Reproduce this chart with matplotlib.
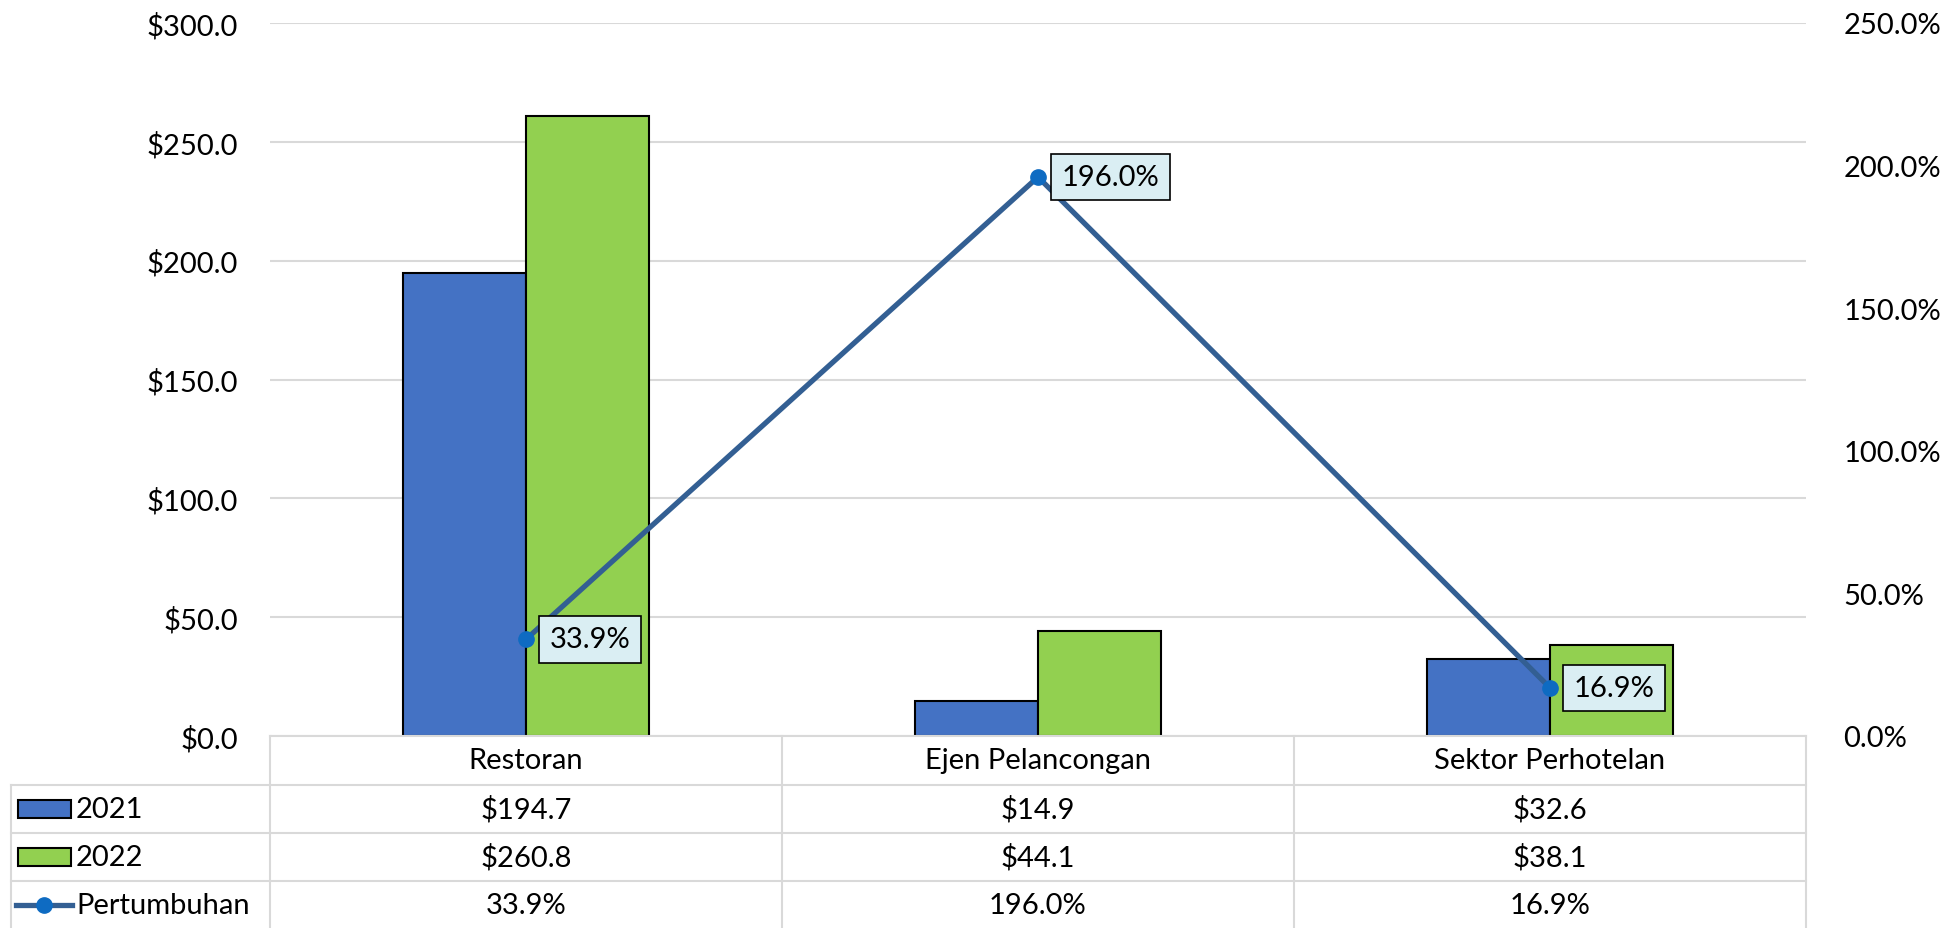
import matplotlib
matplotlib.use('Agg')
import matplotlib.pyplot as plt
import numpy as np
from matplotlib.lines import Line2D
from matplotlib.patches import Rectangle
from matplotlib.transforms import blended_transform_factory

# data
categories = ['Restoran', 'Ejen Pelancongan', 'Sektor Perhotelan']
sales_2021 = [194.7, 14.9, 32.6]
sales_2022 = [260.8, 44.1, 38.1]
growth = [33.9, 196.0, 16.9]
series_names = ['2021', '2022', 'Pertumbuhan']

blue = '#4472C4'
green = '#92D050'
line_col = '#335F93'
marker_col = '#0E6BC2'
grid_col = '#D9D9D9'

plt.rcParams['font.family'] = ['Lato', 'DejaVu Sans']
plt.rcParams['font.size'] = 21

W, H = 1949, 929


def fx(px):
    return px / W


def fy(py):
    return 1 - py / H


fig = plt.figure(figsize=(W / 100, H / 100), dpi=100)
ax = fig.add_axes([fx(270), fy(737), fx(1806) - fx(270), fy(24) - fy(737)])
ax2 = ax.twinx()

x = np.arange(len(categories))
bw = 0.24
ax.bar(x - bw / 2, sales_2021, bw, color=blue, edgecolor='black', linewidth=1.5, zorder=2)
ax.bar(x + bw / 2, sales_2022, bw, color=green, edgecolor='black', linewidth=1.5, zorder=2)

ax.set_xlim(-0.5, len(categories) - 0.5)
ax.set_ylim(0, 300)
ax.set_yticks(range(0, 301, 50))
ax.yaxis.set_major_formatter(lambda v, p: f'${v:.1f}')
ax.set_xticks([])
ax.grid(axis='y', color=grid_col, linewidth=1.5)
ax.set_axisbelow(True)
ax.tick_params(axis='y', length=0, pad=23)

ax2.plot(x, growth, color=line_col, linewidth=3.8, marker='o', markersize=11,
         markerfacecolor=marker_col, markeredgecolor=marker_col, zorder=3)
ax2.set_ylim(0, 250)
ax2.set_yticks(range(0, 251, 50))
ax2.yaxis.set_major_formatter(lambda v, p: f'{v:.1f}%')
ax2.tick_params(axis='y', length=0, pad=27)

for a in (ax, ax2):
    for s in a.spines.values():
        s.set_visible(False)

for i, g in enumerate(growth):
    ax2.annotate(f'{g:.1f}%', (x[i], g), xytext=(17, 0), textcoords='offset points',
                 ha='left', va='center', zorder=5,
                 bbox=dict(boxstyle='square,pad=0.35', fc='#DAEEF3', ec='black', lw=1.2))

# data table under the chart
trans = blended_transform_factory(ax.transData, fig.transFigure)
row_lines = [786, 834, 882]
lw_t = 1.5
ax.add_line(Line2D([-0.5, 2.5], [fy(737)] * 2, transform=trans, color=grid_col, lw=lw_t, clip_on=False))
for yy in row_lines:
    fig.add_artist(Line2D([fx(11), fx(1806)], [fy(yy)] * 2, color=grid_col, lw=lw_t))
for xb in [-0.5, 0.5, 1.5, 2.5]:
    ax.add_line(Line2D([xb, xb], [fy(737), fy(935)], transform=trans, color=grid_col, lw=lw_t, clip_on=False))
fig.add_artist(Line2D([fx(11), fx(11)], [fy(786), fy(935)], color=grid_col, lw=lw_t))

header_y = 761
row_y = [810, 858, 906]
for i, c in enumerate(categories):
    ax.text(x[i], fy(header_y), c, transform=trans, ha='center', va='center')
    ax.text(x[i], fy(row_y[0]), f'${sales_2021[i]:.1f}', transform=trans, ha='center', va='center')
    ax.text(x[i], fy(row_y[1]), f'${sales_2022[i]:.1f}', transform=trans, ha='center', va='center')
    ax.text(x[i], fy(row_y[2]), f'{growth[i]:.1f}%', transform=trans, ha='center', va='center')

# legend keys in the row labels
for k, col in enumerate([blue, green]):
    cy = row_y[k]
    fig.add_artist(Rectangle((fx(18), fy(cy + 9)), fx(71) - fx(18), fy(cy - 9) - fy(cy + 9),
                             transform=fig.transFigure, facecolor=col, edgecolor='black', lw=1.5))
    fig.text(fx(76), fy(cy), series_names[k], ha='left', va='center')
fig.add_artist(Line2D([fx(16), fx(72)], [fy(row_y[2])] * 2, color=line_col, lw=3.8))
fig.add_artist(Line2D([fx(44)], [fy(row_y[2])], marker='o', markersize=11,
                      markerfacecolor=marker_col, markeredgecolor=marker_col))
fig.text(fx(76), fy(row_y[2]), series_names[2], ha='left', va='center')

fig.savefig('out.png', dpi=100)
